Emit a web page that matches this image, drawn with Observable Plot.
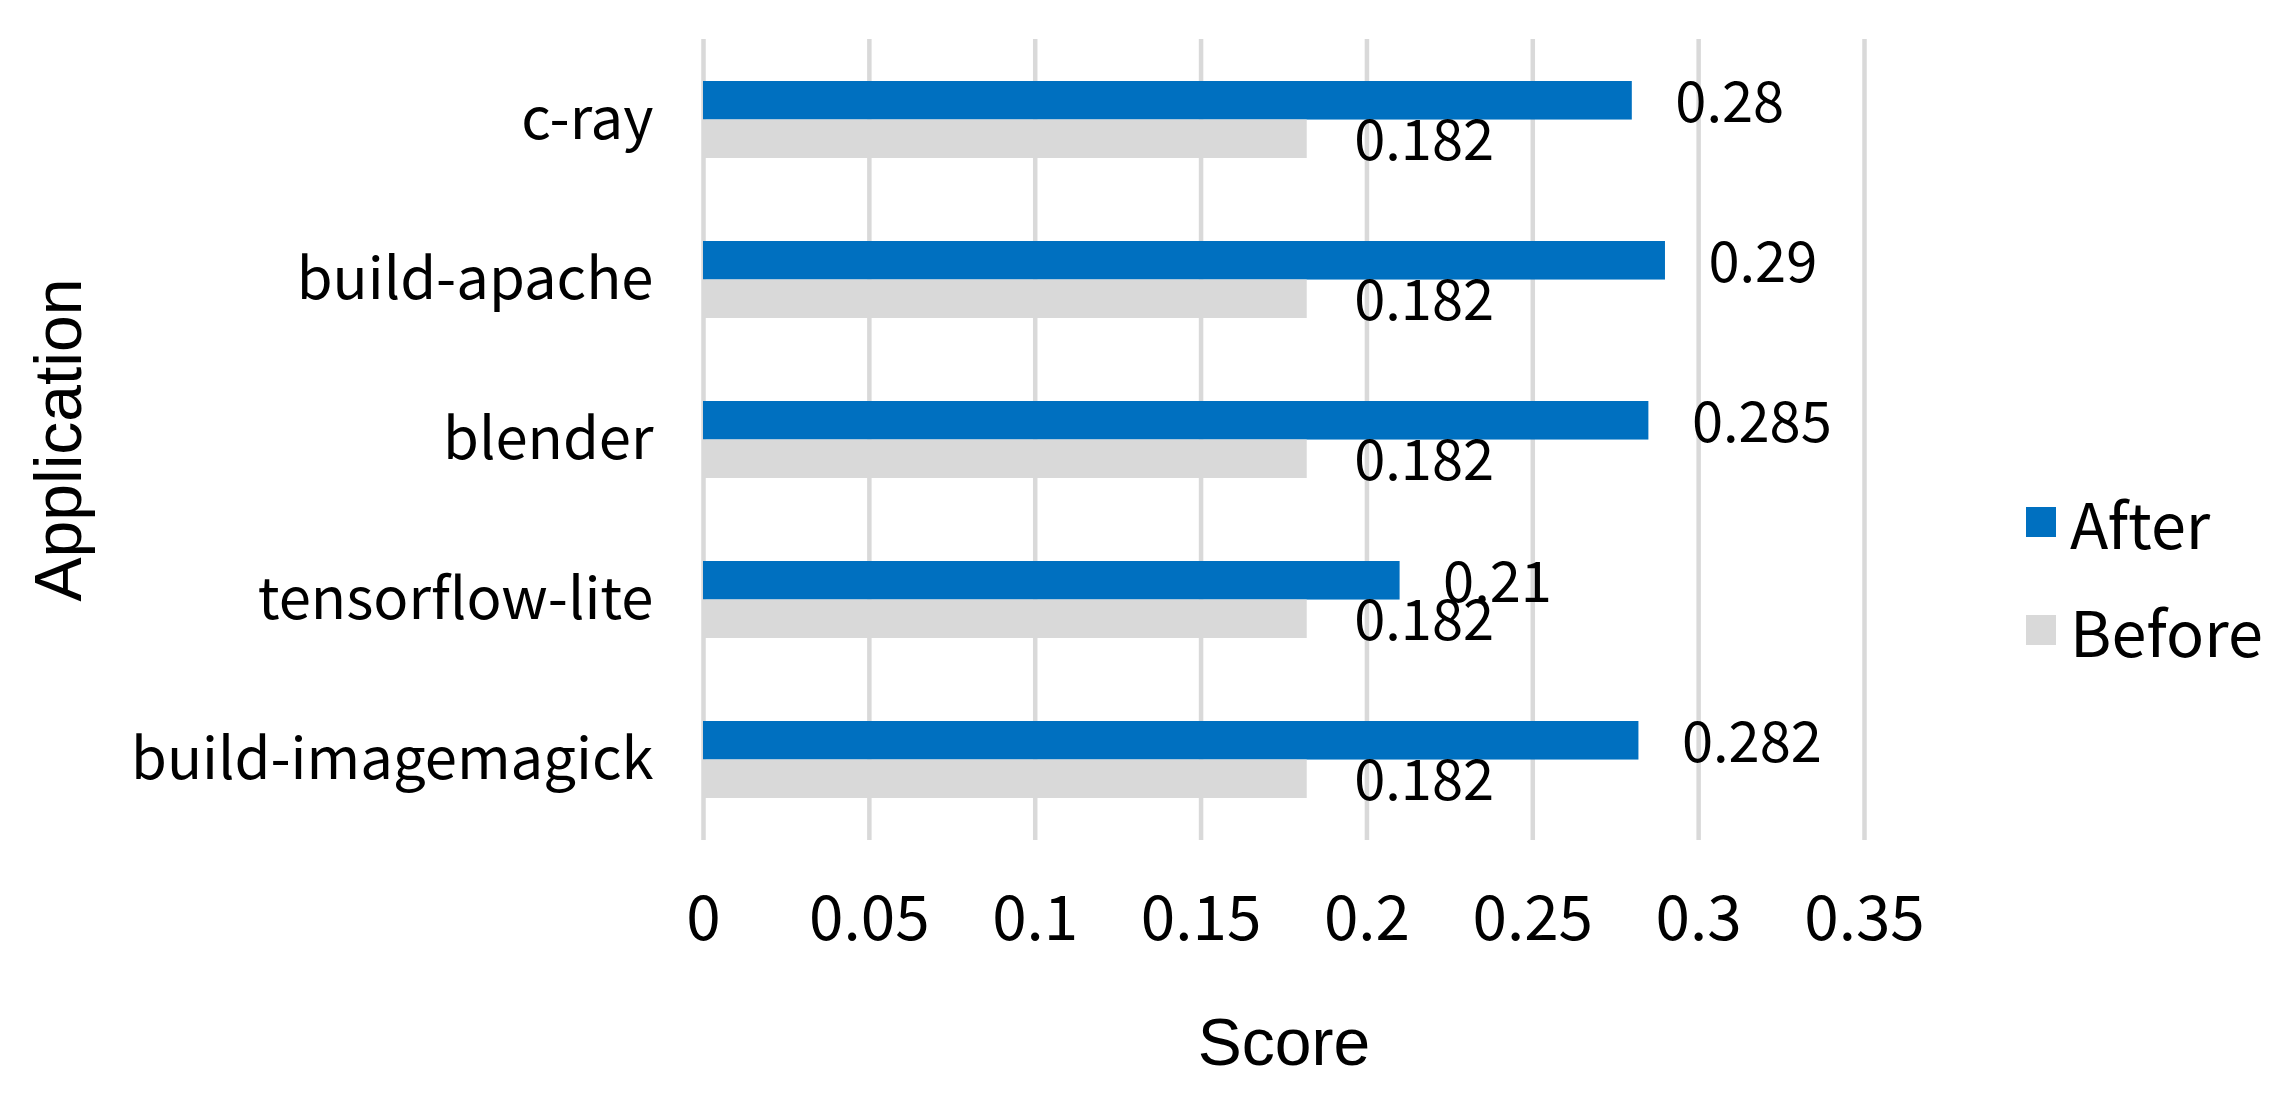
<!DOCTYPE html>
<html>
<head>
<meta charset="utf-8">
<script src="https://cdn.jsdelivr.net/npm/d3@7"></script>
<script src="https://cdn.jsdelivr.net/npm/@observablehq/plot@0.6"></script>
<style>
html, body { margin: 0; padding: 0; background: #fff; }
#wrap { position: relative; width: 2272px; height: 1094px; overflow: hidden; background: #fff; }
#legend { position: absolute; left: 2026px; top: 490px; width: 246px; }
#legend, #legend * { font-family: 'Malgun Gothic', 'Noto Sans CJK KR', 'Noto Sans', sans-serif !important; font-size: 63px !important; color: #000 !important; }
#legend .lg-swatch { line-height: 1 !important; margin: 0 0 45px 0 !important; padding: 0 !important; display: flex !important; align-items: center !important; }
#legend .lg-swatch > svg { margin-right: 14px !important; }
#legend .lg-swatch-label { max-width: none !important; overflow: visible !important; }
</style>
</head>
<body>
<div id="wrap"></div>
<script>
// ---- data ----
const applications = ["c-ray", "build-apache", "blender", "tensorflow-lite", "build-imagemagick"];
const seriesNames = ["After", "Before"];
const afterValues = [0.28, 0.29, 0.285, 0.21, 0.282];
const beforeValues = [0.182, 0.182, 0.182, 0.182, 0.182];
const seriesColors = ["#0070c0", "#d9d9d9"];
const xTicks = [0, 0.05, 0.1, 0.15, 0.2, 0.25, 0.3, 0.35];
const xTickLabels = ["0", "0.05", "0.1", "0.15", "0.2", "0.25", "0.3", "0.35"];
const xTitle = "Score";
const yTitle = "Application";

const rows = applications.flatMap((app, i) => [
  {app, series: seriesNames[0], value: afterValues[i]},
  {app, series: seriesNames[1], value: beforeValues[i]}
]);
const afterRows = rows.filter(d => d.series === "After");
const beforeRows = rows.filter(d => d.series === "Before");

const labelFont = "'Malgun Gothic', 'Noto Sans CJK KR', 'Noto Sans', sans-serif";
const titleFont = "Arial, 'Liberation Sans', sans-serif";
const halfBand = 38.45;

const chart = Plot.plot({
  width: 2272,
  height: 1094,
  marginLeft: 703,
  marginRight: 408,
  marginTop: 39,
  marginBottom: 254,
  style: {fontFamily: labelFont, fontSize: "62px", color: "#000", background: "#fff", overflow: "visible"},
  x: {domain: [0, 0.35], ticks: xTicks, tickFormat: d => xTickLabels[xTicks.indexOf(d)]},
  y: {domain: applications, paddingInner: 0.52, paddingOuter: 0.26},
  color: {domain: seriesNames, range: seriesColors},
  marks: [
    Plot.gridX({ticks: xTicks, stroke: "#d9d9d9", strokeWidth: 4.5, strokeOpacity: 1}),
    Plot.barX(afterRows, {x: "value", y: "app", fill: "series", insetBottom: halfBand}),
    Plot.barX(beforeRows, {x: "value", y: "app", fill: "series", insetTop: halfBand}),
    Plot.text(afterRows, {x: "value", y: "app", text: d => String(d.value), textAnchor: "start", dx: 43, dy: -15.5, fontSize: 56, fill: "#000"}),
    Plot.text(beforeRows, {x: "value", y: "app", text: d => String(d.value), textAnchor: "start", dx: 47, dy: 22.5, fontSize: 56, fill: "#000"}),
    Plot.axisX({ticks: xTicks, tickFormat: d => xTickLabels[xTicks.indexOf(d)], tickSize: 0, tickPadding: 55, label: null, fontSize: 62}),
    Plot.axisY({tickSize: 0, tickPadding: 50, label: null, fontSize: 58}),
    Plot.text([xTitle], {frameAnchor: "bottom", textAnchor: "middle", lineAnchor: "middle", dy: 203, fontFamily: titleFont, fontSize: 66, fill: "#000"}),
    Plot.text([yTitle], {frameAnchor: "left", textAnchor: "middle", lineAnchor: "middle", rotate: -90, dx: -644, fontFamily: titleFont, fontSize: 66, fill: "#000"})
  ]
});

const wrap = document.getElementById("wrap");
wrap.appendChild(chart);

const legend = chart.legend("color", {columns: 1, swatchSize: 30, className: "lg"});
const legendBox = document.createElement("div");
legendBox.id = "legend";
legendBox.appendChild(legend);
wrap.appendChild(legendBox);
</script>
</body>
</html>
